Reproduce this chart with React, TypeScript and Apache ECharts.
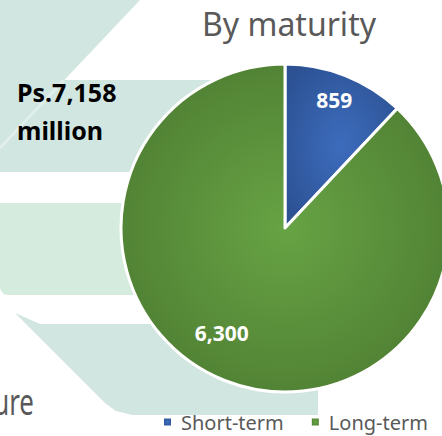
import React, { useEffect, useRef } from "react";
import * as echarts from "echarts";

const categories = ["Short-term", "Long-term"];
const values = [859, 6300];
const totalLabel = ["Ps.7,158", "million"];
const titleText = "By maturity";
const fragmentText = "ure";

const sliceColors = [
  { inner: "#3d6cbd", outer: "#2c5294" },
  { inner: "#67a344", outer: "#4e7d32" },
];
const labelShift = [
  [18, -49],
  [-32, 26],
];

const teal = "#d1e6e0";
const greenish = "#d5ebdd";

export default function App() {
  const ref = useRef<HTMLDivElement>(null);
  useEffect(() => {
    document.body.style.margin = "0";
    const chart = echarts.init(ref.current!, null, { renderer: "svg" });
    const font = "'Noto Sans', sans-serif";
    chart.setOption({
      animation: false,
      backgroundColor: "#ffffff",
      title: {
        text: titleText,
        left: 284,
        top: 2,
        textAlign: "center",
        textStyle: { fontFamily: font, fontSize: 32, fontWeight: "normal", color: "#595959" },
      },
      legend: {
        left: 162,
        top: 412,
        padding: 0,
        itemWidth: 9,
        itemHeight: 9,
        itemGap: 26,
        icon: "rect",
        data: categories,
        textStyle: { fontFamily: font, fontSize: 20, color: "#595959", padding: [0, 0, 0, 4] },
      },
      graphic: [
        { type: "polygon", z: 0, shape: { points: [[0, 0], [140, 0], [0, 148]] }, style: { fill: teal } },
        { type: "rect", z: 0, shape: { x: 0, y: 80, width: 240, height: 92 }, style: { fill: teal } },
        { type: "line", z: 1, shape: { x1: 64, y1: 80, x2: 0, y2: 148 }, style: { stroke: "#ffffff", opacity: 0.35, lineWidth: 3 } },
        { type: "rect", z: 0, shape: { x: 0, y: 203, width: 200, height: 92, r: [0, 0, 0, 8] }, style: { fill: greenish } },
        {
          type: "polygon",
          z: 0,
          shape: {
            points: [[15, 313], [40, 324], [318, 324], [318, 415], [132, 415], [116, 411], [105, 403]],
          },
          style: { fill: teal },
        },
        {
          type: "text",
          z: 2,
          x: 17,
          y: 104,
          style: { text: totalLabel[0], fontFamily: font, fontSize: 25, fontWeight: "bold", fill: "#000000", verticalAlign: "bottom" },
        },
        {
          type: "text",
          z: 2,
          x: 17,
          y: 142,
          style: { text: totalLabel[1], fontFamily: font, fontSize: 25, fontWeight: "bold", fill: "#000000", verticalAlign: "bottom" },
        },
        {
          type: "text",
          z: 2,
          x: 34,
          y: 419,
          scaleX: 0.72,
          style: { text: fragmentText, fontFamily: font, fontSize: 36, fill: "#595959", align: "right", verticalAlign: "bottom" },
        },
      ],
      series: [
        {
          type: "pie",
          center: [285, 228],
          radius: [0, 164],
          startAngle: 90,
          clockwise: true,
          avoidLabelOverlap: false,
          itemStyle: { borderColor: "#ffffff", borderWidth: 3 },
          label: {
            show: true,
            position: "inside",
            formatter: (p: any) => p.value.toLocaleString("en-US"),
            fontFamily: font,
            fontSize: 21,
            fontWeight: "bold",
            color: "#ffffff",
          },
          labelLayout: (p: any) => ({ dx: labelShift[p.dataIndex][0], dy: labelShift[p.dataIndex][1] }),
          emphasis: { disabled: true },
          data: categories.map((name, i) => ({
            name,
            value: values[i],
            itemStyle: {
              color: {
                type: "radial",
                x: 0.5,
                y: 0.5,
                r: 0.6,
                colorStops: [
                  { offset: 0, color: sliceColors[i].inner },
                  { offset: 1, color: sliceColors[i].outer },
                ],
              },
            },
          })),
        },
      ],
    });
    return () => chart.dispose();
  }, []);
  return <div ref={ref} style={{ width: 442, height: 436, position: "absolute", left: 0, top: 0 }} />;
}
